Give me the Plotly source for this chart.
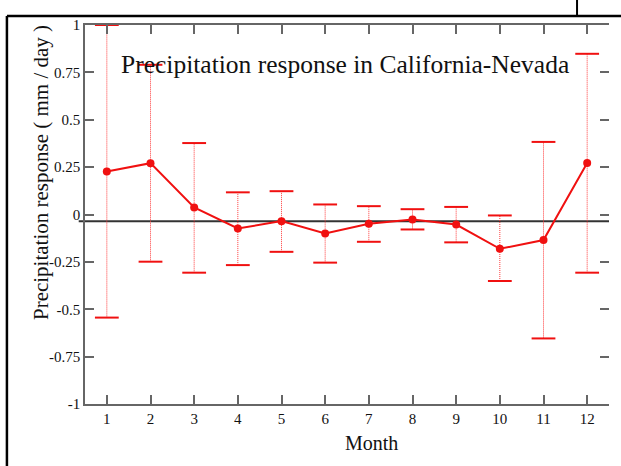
import plotly.graph_objects as go

months = list(range(1, 13))
response = [0.227, 0.271, 0.037, -0.074, -0.035, -0.100, -0.049, -0.026, -0.053, -0.181, -0.135, 0.272]
upper = [1.0, 0.79, 0.377, 0.117, 0.123, 0.053, 0.044, 0.028, 0.040, -0.005, 0.383, 0.848]
lower = [-0.544, -0.249, -0.307, -0.267, -0.197, -0.254, -0.144, -0.079, -0.147, -0.351, -0.654, -0.307]
ref_level = -0.035
ytick_vals = [1, 0.75, 0.5, 0.25, 0, -0.25, -0.5, -0.75, -1]
ytick_text = ["1", "0.75", "0.5", "0.25", "0", "-0.25", "-0.5", "-0.75", "-1"]

RED = "#f01010"
WHISKER = "#ff3a3a"
FONT = "Liberation Serif"

wx, wy = [], []
for m, lo, hi in zip(months, lower, upper):
    wx += [m, m, None]
    wy += [lo, hi, None]

fig = go.Figure()
fig.add_trace(go.Scatter(x=wx, y=wy, mode="lines",
                         line=dict(color=WHISKER, width=1, dash="1px,1px"),
                         hoverinfo="skip", showlegend=False))
fig.add_trace(go.Scatter(x=months + months, y=upper + lower, mode="markers",
                         marker=dict(symbol="line-ew", size=17,
                                     line=dict(color=RED, width=2)),
                         showlegend=False))
fig.add_trace(go.Scatter(x=months, y=response, mode="lines+markers",
                         line=dict(color=RED, width=2),
                         marker=dict(color=RED, size=8),
                         showlegend=False))
fig.add_trace(go.Scatter(x=[None], y=[None], yaxis="y2", showlegend=False))

axis_common = dict(ticks="inside", ticklen=9, tickwidth=1.5, tickcolor="#666",
                   showgrid=False, zeroline=False)

fig.update_layout(
    width=621, height=466,
    margin=dict(l=85, r=12, t=25, b=62),
    paper_bgcolor="white", plot_bgcolor="white",
    font=dict(family=FONT, color="#111"),
    xaxis=dict(range=[0.5, 12.5], tickvals=months, showline=True, linecolor="#666",
               linewidth=1.5, mirror="ticks", tickfont=dict(size=15, family=FONT),
               **axis_common),
    yaxis=dict(range=[-1, 1], tickvals=ytick_vals, ticktext=ytick_text,
               showline=True, linecolor="#666", linewidth=1.5,
               tickfont=dict(size=15, family=FONT), **axis_common),
    yaxis2=dict(range=[-1, 1], tickvals=ytick_vals, overlaying="y", side="right",
                showline=False, showticklabels=False, **axis_common),
    shapes=[
        dict(type="line", xref="paper", yref="y", x0=-0.012, x1=1, y0=ref_level, y1=ref_level,
             line=dict(color="#333", width=2), layer="below"),
        dict(type="line", xref="paper", yref="paper", x0=-0.149, x1=-0.149, y0=-0.2, y1=1.0237,
             line=dict(color="black", width=2.5)),
        dict(type="line", xref="paper", yref="paper", x0=-0.149, x1=1.05, y0=1.0237, y1=1.0237,
             line=dict(color="black", width=2.5)),
        dict(type="line", xref="paper", yref="paper", x0=0.939, x1=0.939, y0=1.0237, y1=1.08,
             line=dict(color="black", width=2)),
    ],
    annotations=[
        dict(text="Precipitation response in California-Nevada", xref="paper", yref="paper",
             x=0.496, y=0.895, showarrow=False, font=dict(size=25.5, family=FONT, color="#111"),
             xanchor="center", yanchor="middle"),
        dict(text="Precipitation response ( mm / day )", xref="paper", yref="paper",
             x=-0.084, y=0.612, textangle=-90, showarrow=False,
             font=dict(size=21, family=FONT, color="#111"), xanchor="center", yanchor="middle"),
        dict(text="Month", xref="paper", yref="paper", x=0.547, y=-0.103, showarrow=False,
             font=dict(size=20, family=FONT, color="#111"), xanchor="center", yanchor="middle"),
    ],
)

fig.write_html("out.html", config={"displayModeBar": False},
               post_script="document.body.style.margin='0';document.body.style.padding='0';")
